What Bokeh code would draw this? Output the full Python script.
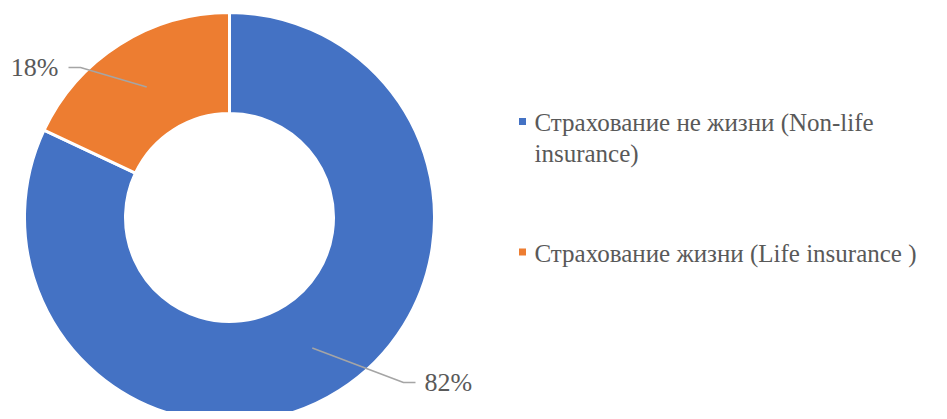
import math
from bokeh.plotting import figure
from bokeh.models import Range1d, ColumnDataSource
from bokeh.core.properties import value
from bokeh.embed import file_html
from bokeh.resources import INLINE

# ---- data ----
categories = ["Страхование не жизни (Non-life insurance)", "Страхование жизни (Life insurance )"]
legend_lines = [["Страхование не жизни (Non-life", "insurance)"], ["Страхование жизни (Life insurance )"]]
shares = [82, 18]
colors = ["#4472C4", "#ED7D31"]

W, H = 931, 411
p = figure(width=W, height=H, output_backend="svg", toolbar_location=None,
           x_range=Range1d(0, W), y_range=Range1d(0, H), min_border=0)
p.axis.visible = False
p.grid.visible = False
p.outline_line_color = None
p.background_fill_color = "white"
p.border_fill_color = "white"

def Y(v):  # top-down layout position -> data y
    return H - v

cx, cy = 229, Y(217)
R_out, R_in = 205, 104
FONT = value("Liberation Serif")
GREY = "#595959"

total = float(sum(shares))
# slices go clockwise starting at 12 o'clock
starts, ends, mids = [], [], []
a = math.pi / 2
for s in shares:
    sweep = 2 * math.pi * s / total
    starts.append(a - sweep)
    ends.append(a)
    mids.append(a - sweep / 2)
    a -= sweep

src = ColumnDataSource(dict(start=starts, end=ends, color=colors))
p.annular_wedge(x=cx, y=cy, inner_radius=R_in, outer_radius=R_out,
                start_angle="start", end_angle="end", fill_color="color",
                line_color="white", line_width=3, source=src)

# data labels with leader lines
r_mid = (R_out + R_in) / 2
elbows = [(174, -165), (-149, 150)]   # offsets from centre (layout)
tails = [12, -12]
label_text = [f"{s}%" for s in shares]
for i in range(len(shares)):
    x0 = cx + r_mid * math.cos(mids[i])
    y0 = cy + r_mid * math.sin(mids[i])
    ex, ey = cx + elbows[i][0], cy + elbows[i][1]
    tx = ex + tails[i]
    p.line([x0, ex, tx], [y0, ey, ey], line_color="#A5A5A5", line_width=1.5)
    align = "left" if tails[i] > 0 else "right"
    p.text(x=[tx + (9 if tails[i] > 0 else -10)], y=[ey], text=[label_text[i]],
           text_font=FONT, text_font_size="26px", text_color=GREY,
           text_align=align, text_baseline="middle")

# legend
leg_x = 522
leg_y = [Y(121), Y(251.5)]
line_h = 30.5
for i, lines in enumerate(legend_lines):
    p.rect(x=[leg_x], y=[leg_y[i]], width=7, height=7, fill_color=colors[i], line_color=None)
    for j, t in enumerate(lines):
        p.text(x=[leg_x + 12], y=[leg_y[i] - 1 - j * line_h], text=[t],
               text_font=FONT, text_font_size="25px", text_color=GREY,
               text_align="left", text_baseline="middle")

open("out.html", "w").write(file_html(p, INLINE))
